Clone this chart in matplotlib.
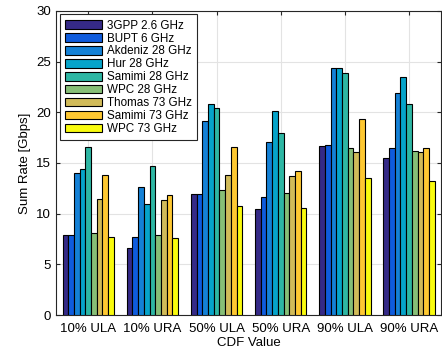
import numpy as np
import matplotlib.pyplot as plt

plt.rcParams['font.family'] = ['Liberation Sans', 'DejaVu Sans']

# --- data ---
categories = ["10% ULA", "10% URA", "50% ULA", "50% URA", "90% ULA", "90% URA"]
models = ["3GPP 2.6 GHz", "BUPT 6 GHz", "Akdeniz 28 GHz", "Hur 28 GHz",
          "Samimi 28 GHz", "WPC 28 GHz", "Thomas 73 GHz", "Samimi 73 GHz",
          "WPC 73 GHz"]

gpp_26 = [7.9, 6.6, 11.9, 10.5, 16.7, 15.5]
bupt_6 = [7.9, 7.7, 11.9, 11.6, 16.8, 16.5]
akdeniz_28 = [14.0, 12.6, 19.1, 17.1, 24.4, 21.9]
hur_28 = [14.4, 10.9, 20.8, 20.1, 24.4, 23.5]
samimi_28 = [16.6, 14.7, 20.4, 18.0, 23.9, 20.8]
wpc_28 = [8.1, 7.9, 12.3, 12.0, 16.5, 16.2]
thomas_73 = [11.4, 11.3, 13.8, 13.7, 16.1, 16.1]
samimi_73 = [13.8, 11.8, 16.6, 14.2, 19.3, 16.5]
wpc_73 = [7.7, 7.6, 10.8, 10.6, 13.5, 13.2]

series = [gpp_26, bupt_6, akdeniz_28, hur_28, samimi_28, wpc_28,
          thomas_73, samimi_73, wpc_73]

# parula-like colour order
colors = ['#352A87', '#0F5CDD', '#1481D6', '#06A4CA', '#2EB7A4',
          '#87BF77', '#D1BB59', '#FEC832', '#F9FB0E']

fig = plt.figure(figsize=(4.42, 3.5), dpi=100)
ax = fig.add_axes([0.127, 0.1, 0.871, 0.869])

x = np.arange(1, len(categories) + 1)
n = len(series)
group_w = 0.8
w = group_w / n
for i, (vals, c, lab) in enumerate(zip(series, colors, models)):
    offs = -group_w / 2 + w * (i + 0.5)
    ax.bar(x + offs, vals, width=w, color=c, edgecolor='black',
           linewidth=0.8, label=lab, zorder=3)

ax.set_xlim(0.5, 6.5)
ax.set_ylim(0, 30)
ax.set_xticks(x)
ax.set_xticklabels(categories)
ax.set_yticks(np.arange(0, 31, 5))

ax.grid(True, color='#e3e3e3', linewidth=0.8, zorder=0)
ax.set_axisbelow(True)
ax.tick_params(direction='in', top=True, right=True, length=3,
               labelsize=9.5, color='#262626')
ax.tick_params(axis='x', pad=6)
for sp in ax.spines.values():
    sp.set_color('#262626')
    sp.set_linewidth(0.8)

ax.set_xlabel("CDF Value", fontsize=9.5, labelpad=1)
ax.set_ylabel("Sum Rate [Gbps]", fontsize=9.5, labelpad=4)

leg = ax.legend(loc='upper left', fontsize=8.4, handlelength=3.2,
                handleheight=0.75, labelspacing=0.08, handletextpad=0.4,
                borderpad=0.45, borderaxespad=0.3, fancybox=False,
                framealpha=1, edgecolor='#262626')
leg.get_frame().set_linewidth(0.8)

fig.savefig("out.png", dpi=100)
